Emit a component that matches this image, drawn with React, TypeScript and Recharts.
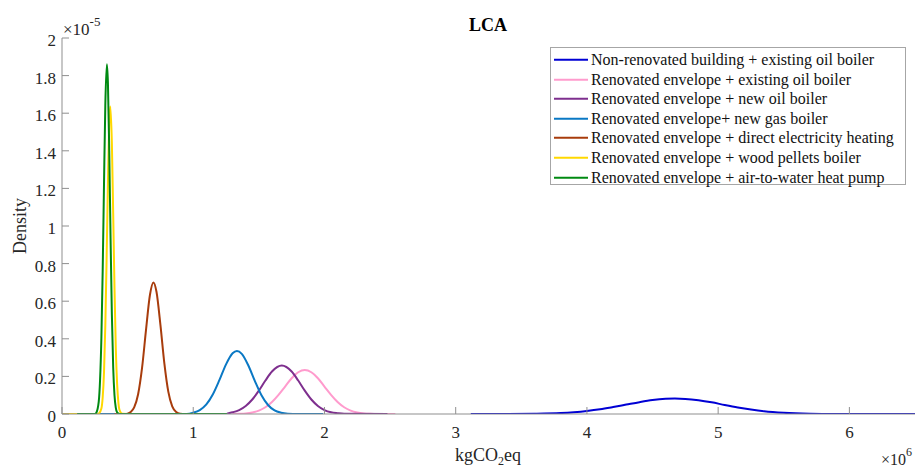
import React from 'react';
import { LineChart, Line, XAxis, YAxis, Legend } from 'recharts';

const xTicks = [0, 1, 2, 3, 4, 5, 6];
const yTicks = [0, 0.2, 0.4, 0.6, 0.8, 1, 1.2, 1.4, 1.6, 1.8, 2];

const seriesNames = [
  'Non-renovated building + existing oil boiler',
  'Renovated envelope + existing oil boiler',
  'Renovated envelope + new oil boiler',
  'Renovated envelope+ new gas boiler',
  'Renovated envelope + direct electricity heating',
  'Renovated envelope + wood pellets boiler',
  'Renovated envelope + air-to-water heat pump',
];
const seriesColors = ['#0000d4', '#ff9bcd', '#7e2f8e', '#0a78c4', '#a83c0c', '#ffd800', '#008a12'];

// x in 10^6 kgCO2eq, y density in 10^-5
const nonRenX = [3.115, 3.4, 3.6, 3.8, 3.9, 4.0, 4.1, 4.2, 4.3, 4.4, 4.5, 4.6, 4.67, 4.75, 4.85, 4.95, 5.05, 5.15, 5.25, 5.35, 5.5, 5.7, 5.9, 6.1, 6.5];
const nonRenY = [0, 0.0002, 0.0013, 0.005, 0.0095, 0.016, 0.025, 0.037, 0.05, 0.063, 0.074, 0.0805, 0.082, 0.08, 0.073, 0.062, 0.048, 0.035, 0.024, 0.015, 0.0067, 0.0017, 0.0003, 0.0001, 0];

const existOilX = [1.3, 1.35, 1.4, 1.45, 1.5, 1.55, 1.6, 1.65, 1.7, 1.75, 1.8, 1.85, 1.9, 1.95, 2.0, 2.05, 2.1, 2.15, 2.2, 2.25, 2.3, 2.35, 2.4, 2.54];
const existOilY = [0, 0.001, 0.003, 0.008, 0.018, 0.036, 0.064, 0.102, 0.146, 0.19, 0.222, 0.234, 0.222, 0.19, 0.146, 0.102, 0.064, 0.036, 0.018, 0.008, 0.003, 0.001, 0, 0];

const newOilX = [1.257, 1.3, 1.35, 1.4, 1.45, 1.5, 1.55, 1.6, 1.675, 1.75, 1.8, 1.85, 1.9, 1.95, 2.0, 2.05, 2.1, 2.15, 2.48];
const newOilY = [0.002, 0.009, 0.021, 0.043, 0.077, 0.124, 0.178, 0.226, 0.258, 0.226, 0.178, 0.124, 0.077, 0.043, 0.021, 0.009, 0.004, 0.001, 0];

const gasX = [0.25, 0.95, 1.0, 1.05, 1.1, 1.15, 1.2, 1.25, 1.3, 1.333, 1.37, 1.42, 1.47, 1.52, 1.57, 1.62, 1.67, 1.72, 1.8, 1.99];
const gasY = [0, 0, 0.007, 0.021, 0.051, 0.105, 0.181, 0.264, 0.323, 0.335, 0.32, 0.258, 0.175, 0.1, 0.048, 0.019, 0.007, 0.002, 0, 0];

const elecX = [0.4, 0.49, 0.52, 0.55, 0.58, 0.61, 0.64, 0.67, 0.697, 0.72, 0.75, 0.78, 0.81, 0.84, 0.87, 0.9, 0.95];
const elecY = [0, 0, 0.009, 0.035, 0.105, 0.245, 0.446, 0.633, 0.7, 0.65, 0.474, 0.269, 0.119, 0.041, 0.011, 0.002, 0];

const woodX = [0, 0.27, 0.28, 0.3, 0.31, 0.32, 0.33, 0.34, 0.35, 0.36, 0.368, 0.38, 0.39, 0.4, 0.41, 0.42, 0.43, 0.44, 0.46, 0.5];
const woodY = [0, 0, 0.002, 0.029, 0.088, 0.22, 0.47, 0.83, 1.23, 1.55, 1.635, 1.44, 1.07, 0.67, 0.35, 0.16, 0.058, 0.018, 0.001, 0];

const hpX = [0.115, 0.25, 0.26, 0.28, 0.29, 0.3, 0.31, 0.32, 0.33, 0.342, 0.35, 0.36, 0.37, 0.38, 0.39, 0.4, 0.41, 0.42, 0.44, 1.257];
const hpY = [0, 0, 0.005, 0.066, 0.18, 0.4, 0.76, 1.22, 1.64, 1.86, 1.76, 1.4, 0.94, 0.53, 0.25, 0.1, 0.033, 0.009, 0, 0];

const toPoints = (xs: number[], ys: number[]) => xs.map((x, i) => ({ x, y: ys[i] }));

const seriesData = [
  toPoints(nonRenX, nonRenY),
  toPoints(existOilX, existOilY),
  toPoints(newOilX, newOilY),
  toPoints(gasX, gasY),
  toPoints(elecX, elecY),
  toPoints(woodX, woodY),
  toPoints(hpX, hpY),
];

const FONT = '"Liberation Serif", "Times New Roman", serif';
const AXIS = '#8f8f8f';
const TXT = '#262626';

const XTick = (props: any) => {
  const { x, y, payload } = props;
  return (
    <g>
      <line x1={x} y1={y} x2={x} y2={y - 7} stroke={AXIS} strokeWidth={1} />
      <text x={x} y={y + 24} textAnchor="middle" fontFamily={FONT} fontSize={17} fill={TXT}>
        {payload.value}
      </text>
    </g>
  );
};

const YTick = (props: any) => {
  const { x, y, payload } = props;
  return (
    <g>
      <line x1={x} y1={y} x2={x + 7} y2={y} stroke={AXIS} strokeWidth={1} />
      <text x={x - 6} y={y + 8} textAnchor="end" fontFamily={FONT} fontSize={17} fill={TXT}>
        {payload.value}
      </text>
    </g>
  );
};

const LegendBox = () => {
  return (
    <div
      style={{
        position: 'relative',
        width: 356,
        height: 138,
        boxSizing: 'border-box',
        border: '1px solid #a6a6a6',
        background: '#fff',
        fontFamily: FONT,
        fontSize: 16,
        color: '#111',
      }}
    >
      {seriesNames.map((name, i) => (
        <div
          key={name}
          style={{
            position: 'absolute',
            left: 0,
            top: 2 + i * 19.6,
            height: 19.6,
            display: 'flex',
            alignItems: 'center',
            whiteSpace: 'nowrap',
          }}
        >
          <svg width={40} height={19.6} style={{ display: 'block' }}>
            <line x1={3} y1={9.8} x2={37} y2={9.8} stroke={seriesColors[i]} strokeWidth={2} />
          </svg>
          <span style={{ lineHeight: '19.6px' }}>{name}</span>
        </div>
      ))}
    </div>
  );
};

export default function App() {
  return (
    <div style={{ position: 'absolute', left: 0, top: 0, width: 915, height: 468, background: '#fff' }}>
      <LineChart width={915} height={468} margin={{ top: 38, right: 0, bottom: 0, left: 0 }}>
        <XAxis
          type="number"
          dataKey="x"
          domain={[0, 6.5]}
          ticks={xTicks}
          interval={0}
          height={54}
          tickSize={0}
          tickMargin={0}
          tick={<XTick />}
          axisLine={{ stroke: AXIS, strokeWidth: 1 }}
          allowDataOverflow
        />
        <YAxis
          type="number"
          dataKey="y"
          domain={[0, 2]}
          ticks={yTicks}
          interval={0}
          width={62}
          tickSize={0}
          tickMargin={0}
          tick={<YTick />}
          axisLine={{ stroke: AXIS, strokeWidth: 1 }}
          allowDataOverflow
        />
        <Legend
          layout="vertical"
          align="center"
          verticalAlign="middle"
          wrapperStyle={{ left: 550, top: 47, width: 356, height: 138 }}
          content={<LegendBox />}
        />
        {seriesData.map((d, i) => (
          <Line
            key={seriesNames[i]}
            data={d}
            dataKey="y"
            name={seriesNames[i]}
            type="monotone"
            stroke={seriesColors[i]}
            strokeWidth={2}
            dot={false}
            activeDot={false}
            isAnimationActive={false}
          />
        ))}
      </LineChart>
      <svg
        width={915}
        height={468}
        style={{ position: 'absolute', left: 0, top: 0, pointerEvents: 'none' }}
      >
        <text x={488} y={31} textAnchor="middle" fontFamily={FONT} fontSize={18} fontWeight="bold" fill="#000">
          LCA
        </text>
        <text x={63} y={35} fontFamily={FONT} fontSize={17} fill={TXT}>
          ×10
          <tspan dy={-9} fontSize={13}>-5</tspan>
        </text>
        <text x={912} y={465} textAnchor="end" fontFamily={FONT} fontSize={16} fill={TXT}>
          ×10
          <tspan dy={-9} fontSize={12}>6</tspan>
        </text>
        <text x={488} y={461} textAnchor="middle" fontFamily={FONT} fontSize={18} fill={TXT}>
          kgCO
          <tspan dy={4} fontSize={12}>2</tspan>
          <tspan dy={-4}>eq</tspan>
        </text>
        <text
          x={0}
          y={0}
          transform="translate(26,226) rotate(-90)"
          textAnchor="middle"
          fontFamily={FONT}
          fontSize={18}
          fill={TXT}
        >
          Density
        </text>
      </svg>
    </div>
  );
}
